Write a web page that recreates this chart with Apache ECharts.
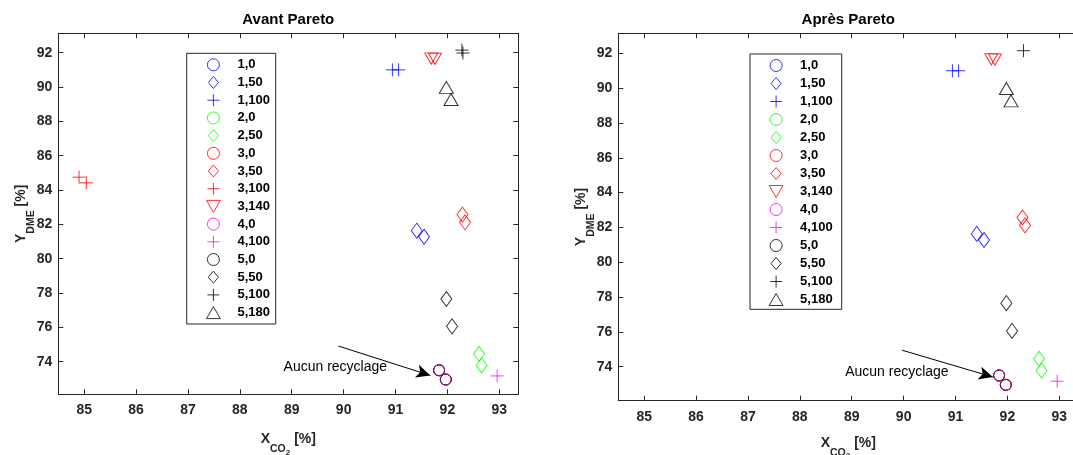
<!DOCTYPE html>
<html><head><meta charset="utf-8">
<script src="https://cdn.jsdelivr.net/npm/echarts@6/dist/echarts.min.js"></script>
<style>html,body{margin:0;padding:0;background:#fff}#c{width:1073px;height:455px}</style>
</head><body><div id="c"></div>
<script>
// ---------- data ----------
const xTicks = [85, 86, 87, 88, 89, 90, 91, 92, 93];
const yTicks = [74, 76, 78, 80, 82, 84, 86, 88, 90, 92];
const titles = ['Avant Pareto', 'Après Pareto'];
const legendAvant = ['1,0','1,50','1,100','2,0','2,50','3,0','3,50','3,100','3,140','4,0','4,100','5,0','5,50','5,100','5,180'];
const legendApres = ['1,0','1,50','1,100','2,0','2,50','3,0','3,50','3,140','4,0','4,100','5,0','5,50','5,100','5,180'];

const noRecycle = [[91.84, 73.50], [91.97, 72.96]];   // 1,0 2,0 3,0 4,0 5,0
const d_1_50  = [[91.41, 81.63], [91.55, 81.28]];
const d_1_100 = [[90.94, 91.00], [91.06, 91.00]];
const d_2_50  = [[92.61, 74.46], [92.66, 73.78]];
const d_3_50  = [[92.29, 82.57], [92.34, 82.12]];
const d_3_100 = [[84.90, 84.75], [85.04, 84.42]];
const d_3_140 = [[91.69, 91.66], [91.76, 91.64]];
const d_4_100 = [[92.96, 73.17]];
const d_5_50  = [[91.98, 77.65], [92.09, 76.06]];
const d_5_100_avant = [[92.28, 92.15], [92.30, 91.98]];
const d_5_100_apres = [[92.31, 92.15]];
const d_5_180 = [[91.98, 89.98], [92.07, 89.27]];

const annotationText = 'Aucun recyclage';
const arrowAvant = [[89.90, 74.91], [91.67, 73.20]];
const arrowApres = [[89.97, 74.95], [91.72, 73.41]];
const labelAvant = [89.84, 73.68];
const labelApres = [89.87, 73.67];

// ---------- styling ----------
const FONT = '"Liberation Sans", Arial, sans-serif';
const AX = '#262626';
const SYM = {
  circle:  { symbol: 'circle', size: 11 },
  diamond: { symbol: 'path://M5.5,0L11,7.5L5.5,15L0,7.5Z', size: [11, 15] },
  plus:    { symbol: 'path://M0,6.5L13,6.5M6.5,0L6.5,13', size: 13 },
  tdown:   { symbol: 'path://M0,0L13,0L6.5,11.3Z', size: [13, 11.3] },
  tup:     { symbol: 'path://M6.5,0L13,11.3L0,11.3Z', size: [14, 12] }
};
const LEGEND_DIAMOND = 'path://M5.5,0L11,6.5L5.5,13L0,6.5Z';
const BLUE = '#0000ff', GREEN = '#00ff00', RED = '#ff0000', MAG = '#ff00ff', BLACK = '#000000';

function defs(isAvant) {
  const list = [
    ['1,0', noRecycle, 'circle', BLUE],
    ['1,50', d_1_50, 'diamond', BLUE],
    ['1,100', d_1_100, 'plus', BLUE],
    ['2,0', noRecycle, 'circle', GREEN],
    ['2,50', d_2_50, 'diamond', GREEN],
    ['3,0', noRecycle, 'circle', RED],
    ['3,50', d_3_50, 'diamond', RED]
  ];
  if (isAvant) list.push(['3,100', d_3_100, 'plus', RED]);
  list.push(
    ['3,140', d_3_140, 'tdown', RED],
    ['4,0', noRecycle, 'circle', MAG],
    ['4,100', d_4_100, 'plus', MAG],
    ['5,0', noRecycle, 'circle', '#4b0a3c'],
    ['5,50', d_5_50, 'diamond', BLACK],
    ['5,100', isAvant ? d_5_100_avant : d_5_100_apres, 'plus', BLACK],
    ['5,180', d_5_180, 'tup', BLACK]
  );
  return list;
}

const grids = [
  { left: 58.3, top: 33.3, width: 460, height: 361, outerBoundsMode: 'none', containLabel: false },
  { left: 618.3, top: 33.3, width: 460, height: 367.4, outerBoundsMode: 'none', containLabel: false }
];
const yRanges = [[72.10, 93.13], [72.05, 93.15]];
const xNameGaps = [42, 39];

const xAxis = [], yAxis = [], series = [];
const nameRich = {
  m:  { fontFamily: FONT, fontSize: 14, fontWeight: 'bold', color: AX, lineHeight: 16, padding: [0, 0, 10, 0] },
  s:  { fontFamily: FONT, fontSize: 10.5, fontWeight: 'bold', color: AX, lineHeight: 12, padding: [12, 0, 2, 0] },
  ss: { fontFamily: FONT, fontSize: 8, fontWeight: 'bold', color: AX, lineHeight: 10, padding: [16, 0, 0, 0] }
};
[0, 1].forEach(gi => {
  const common = {
    type: 'value', gridIndex: gi, min: 84.5, max: 93.367,
    splitLine: { show: false },
    axisLine: { show: true, lineStyle: { color: AX, width: 1 } },
    axisTick: { show: true, inside: true, length: 5, customValues: xTicks, lineStyle: { color: AX } }
  };
  xAxis.push(Object.assign({}, common, {
    position: 'bottom',
    axisLabel: { customValues: xTicks, fontFamily: FONT, fontSize: 14, fontWeight: 'bold', color: AX, margin: 9 },
    name: '{m|X}{s|CO}{ss|2}{m| [%]}', nameLocation: 'middle', nameGap: xNameGaps[gi], nameMoveOverlap: false,
    nameTextStyle: { rich: nameRich }
  }));
  xAxis.push(Object.assign({}, common, { position: 'top', axisLabel: { show: false } }));
  const ycommon = {
    type: 'value', gridIndex: gi, min: yRanges[gi][0], max: yRanges[gi][1],
    splitLine: { show: false },
    axisLine: { show: true, lineStyle: { color: AX, width: 1 } },
    axisTick: { show: true, inside: true, length: 5, customValues: yTicks, lineStyle: { color: AX } }
  };
  yAxis.push(Object.assign({}, ycommon, {
    position: 'left',
    axisLabel: { customValues: yTicks, fontFamily: FONT, fontSize: 14, fontWeight: 'bold', color: AX, margin: 6 },
    name: '{m|Y}{s|DME}{m| [%]}', nameLocation: 'middle', nameRotate: 90, nameGap: 24, nameMoveOverlap: false,
    nameTextStyle: { rich: nameRich }
  }));
  yAxis.push(Object.assign({}, ycommon, { position: 'right', axisLabel: { show: false } }));

  const isAvant = gi === 0;
  defs(isAvant).forEach(([name, data, kind, color]) => {
    const s = {
      type: 'scatter', name: name, data: data,
      xAxisIndex: gi * 2, yAxisIndex: gi * 2,
      symbol: SYM[kind].symbol, symbolSize: SYM[kind].size,
      itemStyle: { color: 'rgba(0,0,0,0)', borderColor: color, borderWidth: 1 },
      emphasis: { disabled: true },
      z: name === '5,0' ? 5 : 3
    };
    if (name === '5,0') {
      const arrow = isAvant ? arrowAvant : arrowApres;
      s.markLine = {
        silent: true, symbol: ['none', 'arrow'], symbolSize: [10, 14],
        lineStyle: { color: '#000', width: 1, type: 'solid' },
        label: { show: false },
        data: [[{ coord: arrow[0] }, { coord: arrow[1] }]]
      };
      s.markPoint = {
        silent: true, symbol: 'circle', symbolSize: 0,
        label: { show: true, position: 'inside', formatter: annotationText,
                 fontFamily: FONT, fontSize: 14, color: '#000' },
        data: [{ coord: isAvant ? labelAvant : labelApres, value: 0 }]
      };
    }
    series.push(s);
  });
});

function legendData(names) {
  const diamonds = ['1,50', '2,50', '3,50', '5,50'];
  return names.map(n => {
    const item = { name: n };
    if (n === '5,0') item.itemStyle = { borderColor: '#000' };
    if (diamonds.indexOf(n) >= 0) item.icon = LEGEND_DIAMOND;
    return item;
  });
}
const legendCommon = {
  orient: 'vertical', padding: 0, itemWidth: 38, itemHeight: 12,
  selectedMode: false, symbolKeepAspect: true,
  itemStyle: { borderWidth: 1 },
  textStyle: { fontFamily: FONT, fontSize: 13, fontWeight: 'bold', color: '#000' }
};

const option = {
  animation: false,
  backgroundColor: '#fff',
  title: [
    { text: titles[0], left: 288.3, top: 12, textAlign: 'center', padding: 0,
      textStyle: { fontFamily: FONT, fontSize: 15, fontWeight: 'bold', color: '#000' } },
    { text: titles[1], left: 848.3, top: 12, textAlign: 'center', padding: 0,
      textStyle: { fontFamily: FONT, fontSize: 15, fontWeight: 'bold', color: '#000' } }
  ],
  grid: grids,
  xAxis: xAxis,
  yAxis: yAxis,
  legend: [
    Object.assign({}, legendCommon, { left: 206, top: 58.3, itemGap: 4.7, data: legendData(legendAvant) }),
    Object.assign({}, legendCommon, { left: 768.7, top: 59, itemGap: 5, data: legendData(legendApres) })
  ],
  graphic: [
    { type: 'rect', z: 1, shape: { x: 186.7, y: 53.3, width: 89, height: 270.7 },
      style: { fill: '#fff', stroke: AX, lineWidth: 1 } },
    { type: 'rect', z: 1, shape: { x: 750, y: 54, width: 91.7, height: 255.3 },
      style: { fill: '#fff', stroke: AX, lineWidth: 1 } }
  ],
  series: series
};
const chart = echarts.init(document.getElementById('c'), null, { renderer: 'canvas' });
chart.setOption(option);
</script></body></html>
